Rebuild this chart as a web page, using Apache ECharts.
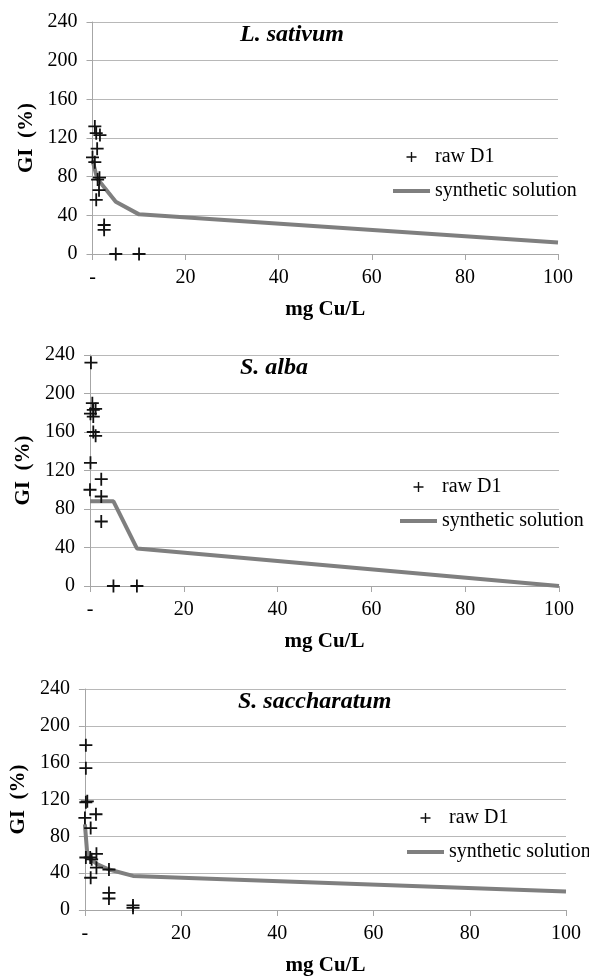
<!DOCTYPE html>
<html>
<head>
<meta charset="utf-8">
<script src="https://cdn.jsdelivr.net/npm/echarts@6/dist/echarts.min.js"></script>
<style>
html,body{margin:0;padding:0;background:#fff;}
#chart{width:589px;height:977px;}
</style>
</head>
<body>
<div id="chart"></div>
<script>
// ---- data ----
const panelTitles = ['L. sativum', 'S. alba', 'S. saccharatum'];
const xTickValues = [0, 20, 40, 60, 80, 100];
const xTickLabels = ['-', '20', '40', '60', '80', '100'];
const yTickValues = [0, 40, 80, 120, 160, 200, 240];
const xAxisTitle = 'mg Cu/L';
const yAxisTitle = 'GI  (%)';
const scatterName = 'raw D1';
const lineName = 'synthetic solution';

// L. sativum
const rawSativumX = [0.5, 0.8, 1.6, 1.0, 0.0, 0.5, 1.5, 1.1, 1.4, 0.8, 2.5, 2.5, 5, 10];
const rawSativumY = [132, 125, 123, 109, 100, 95, 79, 77, 66, 56, 30, 25, 0, 0];
const synSativumX = [0, 1, 5, 10, 100];
const synSativumY = [97, 78, 54, 41, 12];

// S. alba
const rawAlbaX = [0.2, 0.5, 1.2, 0.7, 0.1, 0.7, 0.7, 1.2, 0.1, 2.4, 0.0, 2.4, 2.4, 5, 10];
const rawAlbaY = [232, 190, 184, 183, 179, 176, 160, 156, 128, 111, 100, 93, 67, 0, 0];
const synAlbaX = [0, 5, 10, 100];
const synAlbaY = [88, 88, 39, 0];

// S. saccharatum
const rawSaccX = [0.2, 0.2, 0.5, 0.2, 2.3, 0.0, 1.2, 0.2, 1.1, 2.4, 1.4, 2.4, 5, 1.2, 5, 5, 10, 10];
const rawSaccY = [179, 154, 118, 117, 104, 100, 89, 57, 57, 61, 55, 46, 44, 35, 18.5, 12.5, 5, 2.4];
const synSaccX = [0, 0.5, 1, 2.5, 5, 10, 100];
const synSaccY = [93, 60, 56, 50, 44, 37, 20];

const rawX = [rawSativumX, rawAlbaX, rawSaccX];
const rawY = [rawSativumY, rawAlbaY, rawSaccY];
const synX = [synSativumX, synAlbaX, synSaccX];
const synY = [synSativumY, synAlbaY, synSaccY];

// ---- layout ----
const grids = [
  {left: 92.5, top: 22, width: 465.5, height: 232},
  {left: 90, top: 355, width: 469, height: 231},
  {left: 84, top: 689, width: 482, height: 223}
];
const titlePos = [{left: 240, top: 23}, {left: 240, top: 356}, {left: 238, top: 690}];
const legendPos = [{left: 393, top: 147}, {left: 400, top: 477}, {left: 407, top: 808}];
const yNameGap = [50, 49, 50];

const FONT = "'Liberation Serif', 'Times New Roman', serif";
const plusPath = 'path://M0,5.6H13V7.4H0Z M5.6,0H7.4V13H5.6Z';
const linePath = 'path://M0,0H37V4H0Z';

const zip = (xs, ys) => xs.map((x, i) => [x, ys[i]]);

const option = {
  animation: false,
  backgroundColor: '#fff',
  title: panelTitles.map((t, i) => ({
    text: t,
    left: titlePos[i].left,
    top: titlePos[i].top,
    padding: 0,
    textStyle: {fontFamily: FONT, fontSize: 24, fontWeight: 'bold', fontStyle: 'italic', color: '#000'}
  })),
  legend: legendPos.map((p, i) => ({
    orient: 'vertical',
    left: p.left,
    top: p.top,
    padding: 0,
    itemWidth: 37,
    itemHeight: 10,
    itemGap: 14,
    textStyle: {fontFamily: FONT, fontSize: 20, color: '#000'},
    data: [
      {name: scatterName, icon: plusPath},
      {name: lineName, icon: linePath}
    ]
  })),
  grid: grids.map(g => Object.assign({containLabel: false}, g)),
  xAxis: grids.map((g, i) => ({
    type: 'value',
    gridIndex: i,
    min: 0, max: 100, interval: 20,
    name: xAxisTitle,
    nameLocation: 'middle',
    nameGap: 45,
    nameTextStyle: {fontFamily: FONT, fontSize: 21, fontWeight: 'bold', color: '#000'},
    axisLine: {show: true, lineStyle: {color: '#a6a6a6', width: 1}},
    axisTick: {show: true, length: 6, lineStyle: {color: '#a6a6a6'}},
    splitLine: {show: false},
    axisLabel: {
      fontFamily: FONT, fontSize: 20, color: '#000', margin: 14,
      formatter: v => { const k = xTickValues.indexOf(v); return k >= 0 ? xTickLabels[k] : ''; }
    }
  })),
  yAxis: grids.map((g, i) => ({
    type: 'value',
    gridIndex: i,
    min: 0, max: 240, interval: 40,
    name: yAxisTitle,
    nameLocation: 'middle',
    nameGap: yNameGap[i],
    nameTextStyle: {fontFamily: FONT, fontSize: 21, fontWeight: 'bold', color: '#000'},
    axisLine: {show: true, lineStyle: {color: '#a6a6a6', width: 1}},
    axisTick: {show: true, length: 6, lineStyle: {color: '#a6a6a6'}},
    splitLine: {show: true, lineStyle: {color: '#b8b8b8', width: 1}},
    axisLabel: {
      fontFamily: FONT, fontSize: 20, color: '#000', margin: 15,
      formatter: v => (yTickValues.indexOf(v) >= 0 ? String(v) : '')
    }
  })),
  series: []
};

for (let i = 0; i < 3; i++) {
  option.series.push({
    name: lineName,
    type: 'line',
    xAxisIndex: i, yAxisIndex: i,
    data: zip(synX[i], synY[i]),
    symbol: 'none',
    showSymbol: false,
    lineStyle: {color: '#7f7f7f', width: 4},
    itemStyle: {color: '#7f7f7f'},
    z: 2
  });
  option.series.push({
    name: scatterName,
    type: 'scatter',
    xAxisIndex: i, yAxisIndex: i,
    data: zip(rawX[i], rawY[i]),
    symbol: plusPath,
    symbolSize: 13,
    itemStyle: {color: '#111', opacity: 1},
    z: 3
  });
}

const chart = echarts.init(document.getElementById('chart'), null, {renderer: 'canvas'});
chart.setOption(option);
</script>
</body>
</html>
